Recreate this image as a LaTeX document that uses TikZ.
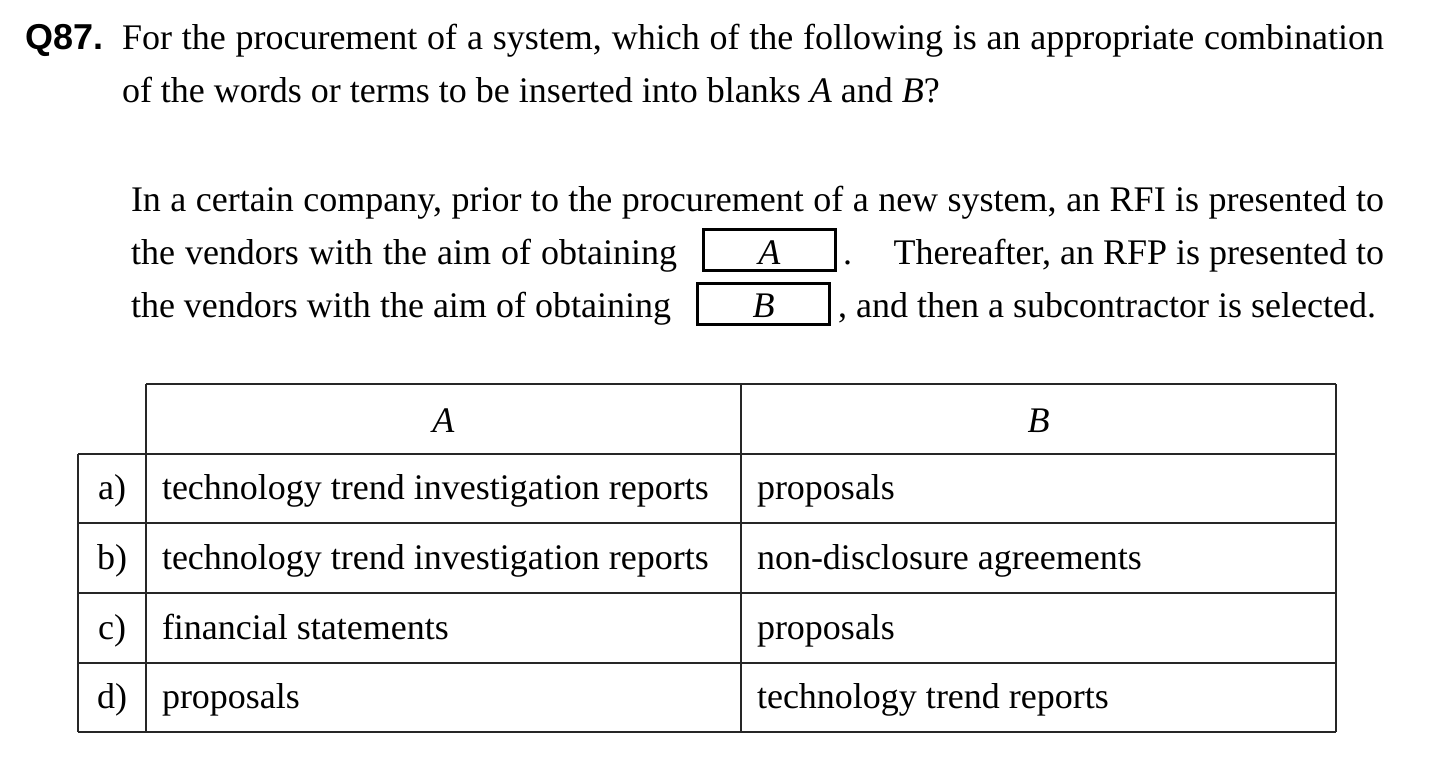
\documentclass[tikz,border=0pt]{standalone}
\usepackage{fontspec}
\setmainfont{Liberation Serif}
\newfontfamily\qsans{Liberation Sans}
\begin{document}
\begin{tikzpicture}[x=1pt,y=-1pt,
  txt/.style={inner sep=0pt,outer sep=0pt,font=\fontsize{36}{42}\selectfont,anchor=base west},
  txtc/.style={txt,anchor=base},
  txte/.style={txt,anchor=base east},
  blank/.style={draw,line width=3pt,inner sep=0pt,minimum width=132pt,minimum height=41pt},
  grid/.style={line width=1.6pt,draw=black!85}]
\useasboundingbox (0,0) rectangle (1450,768);
% question
\node[txt,font=\fontsize{36}{42}\selectfont\qsans\bfseries] (q) at (25,49) {Q87.};
\node[txt] (l1) at (122,49) {\makebox[1262pt][s]{For the procurement of a system, which of the following is an appropriate combination}};
\node[txt] (l2) at (122,102) {of the words or terms to be inserted into blanks \textit{A} and \textit{B}?};
% paragraph
\node[txt] (p1) at (131,211) {\makebox[1253pt][s]{In a certain company, prior to the procurement of a new system, an RFI is presented to}};
\node[txt] (p2a) at (131,264) {\makebox[546pt][s]{the vendors with the aim of obtaining}};
\node[blank] (ba) at (769.5,250) {};
\node[txtc] (ta) at (769.5,264) {\textit{A}};
\node[txt] (p2b) at (843,264) {.};
\node[txte] (p2c) at (1384,264) {Thereafter, an RFP is presented to};
\node[txt] (p3a) at (131,317) {\makebox[540pt][s]{the vendors with the aim of obtaining}};
\node[blank] (bb) at (763.5,303.5) {};
\node[txtc] (tb) at (763.5,317) {\textit{B}};
\node[txte] (p3b) at (1376,317) {, and then a subcontractor is selected.};
% table
\draw[grid] (146,384) -- (1336,384);
\draw[grid] (78,454) -- (1336,454);
\draw[grid] (78,523) -- (1336,523);
\draw[grid] (78,593) -- (1336,593);
\draw[grid] (78,663) -- (1336,663);
\draw[grid] (78,732) -- (1336,732);
\draw[grid] (78,454) -- (78,732);
\draw[grid] (146,384) -- (146,732);
\draw[grid] (741,384) -- (741,732);
\draw[grid] (1336,384) -- (1336,732);
\node[txtc] (hA) at (443.5,432) {\textit{A}};
\node[txtc] (hB) at (1038.5,432) {\textit{B}};
\node[txtc] (ra) at (112,499) {a)};
\node[txt] (ra1) at (162,499) {technology trend investigation reports};
\node[txt] (ra2) at (757,499) {proposals};
\node[txtc] (rb) at (112,569) {b)};
\node[txt] (rb1) at (162,569) {technology trend investigation reports};
\node[txt] (rb2) at (757,569) {non-disclosure agreements};
\node[txtc] (rc) at (112,639) {c)};
\node[txt] (rc1) at (162,639) {financial statements};
\node[txt] (rc2) at (757,639) {proposals};
\node[txtc] (rd) at (112,708) {d)};
\node[txt] (rd1) at (162,708) {proposals};
\node[txt] (rd2) at (757,708) {technology trend reports};
\end{tikzpicture}
\end{document}
